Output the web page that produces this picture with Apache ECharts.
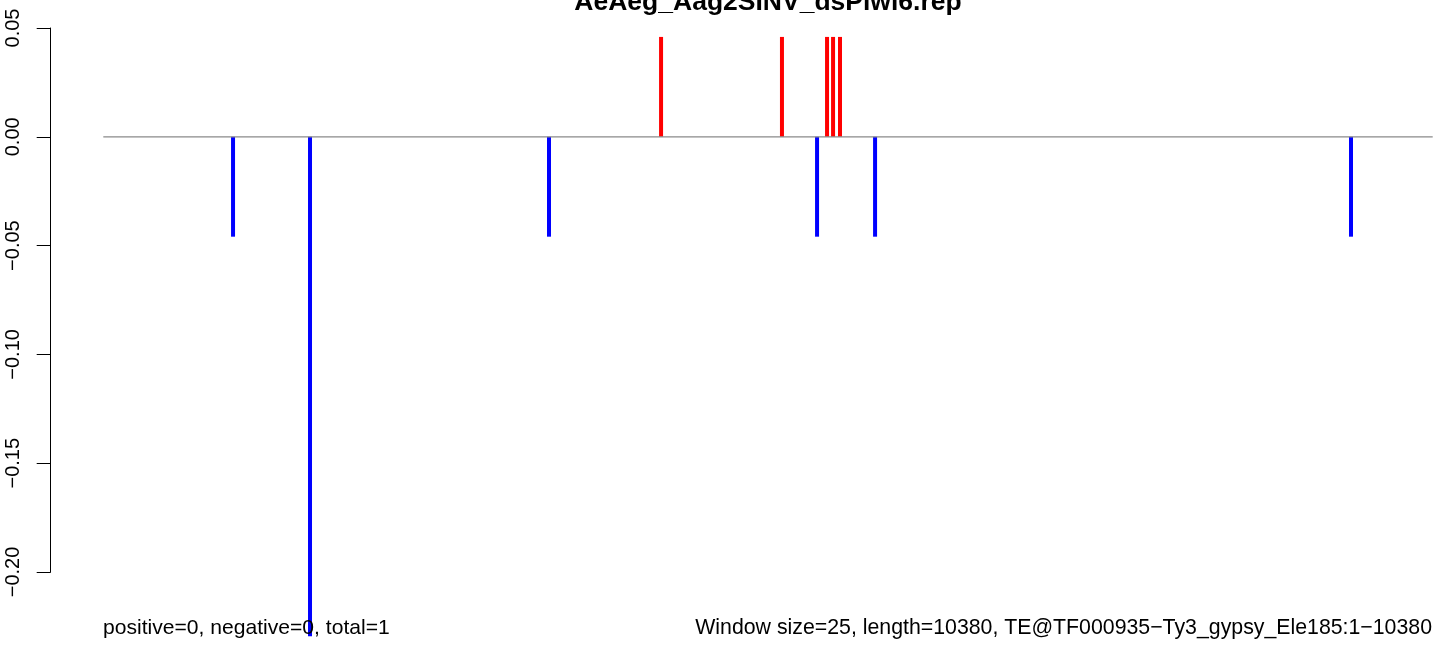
<!DOCTYPE html>
<html>
<head>
<meta charset="utf-8">
<script src="https://cdn.jsdelivr.net/npm/echarts@6/dist/echarts.min.js"></script>
<style>
html,body{margin:0;padding:0;background:#fff;}
#chart{width:1444px;height:646px;}
</style>
</head>
<body>
<div id="chart"></div>
<script>
// ---- data ----
const titleText = 'AeAeg_Aag2SINV_dsPiwi6.rep';
const leftNote = 'positive=0, negative=0, total=1';
const rightNote = 'Window size=25, length=10380, TE@TF000935\u2212Ty3_gypsy_Ele185:1\u221210380';
const seqLength = 10380;
const posPositions = [4355, 5299, 5651, 5698, 5752];
const posValues = [0.0459, 0.0459, 0.0459, 0.0459, 0.0459];
const negPositions = [1013, 1614, 3480, 5573, 6026, 9742];
const negValues = [-0.0459, -0.2295, -0.0459, -0.0459, -0.0459, -0.0459];
const yTickMin = -0.20, yTickMax = 0.05, yTickStep = 0.05;

const FONT = '"Liberation Sans", Arial, Helvetica, sans-serif';
const pos = posPositions.map((x, i) => [x, posValues[i]]);
const neg = negPositions.map((x, i) => [x, negValues[i]]);

const chart = echarts.init(document.getElementById('chart'), null, {renderer: 'canvas'});
chart.setOption({
  animation: false,
  backgroundColor: '#ffffff',
  grid: [
    {left: 103.3, width: 1329.4, top: 28, bottom: 8.7, containLabel: false},
    {left: 50.7, width: 1, top: 28, height: 544, containLabel: false}
  ],
  xAxis: [
    {type: 'value', gridIndex: 0, min: 0, max: seqLength, show: false},
    {type: 'value', gridIndex: 1, min: 0, max: 1, show: false}
  ],
  yAxis: [
    {type: 'value', gridIndex: 0, min: -0.23, max: 0.05, show: false},
    {type: 'value', gridIndex: 1, min: yTickMin, max: yTickMax, interval: yTickStep,
      axisLine: {show: true, lineStyle: {color: '#000', width: 1}},
      axisTick: {show: true, length: 14, lineStyle: {color: '#000', width: 1}},
      splitLine: {show: false},
      axisLabel: {
        rotate: 90, margin: 27, color: '#000', fontSize: 20, fontFamily: FONT,
        formatter: v => v.toFixed(2).replace('-', '\u2212')
      }
    }
  ],
  series: [
    {type: 'bar', xAxisIndex: 0, yAxisIndex: 0, data: pos, barWidth: 4, barGap: '-100%',
      itemStyle: {color: '#ff0000'}, z: 2},
    {type: 'bar', xAxisIndex: 0, yAxisIndex: 0, data: neg, barWidth: 4, barGap: '-100%',
      itemStyle: {color: '#0000ff'}, z: 2},
    {type: 'line', xAxisIndex: 0, yAxisIndex: 0, data: [[0, 0], [seqLength, 0]],
      symbol: 'none', lineStyle: {color: '#8a8a8a', width: 1.3}, z: 3}
  ],
  graphic: [
    {type: 'text', z: 10,
      style: {text: titleText, x: 768, y: 3, align: 'center', verticalAlign: 'middle',
        font: 'bold 26.5px ' + FONT, fill: '#000'}},
    {type: 'text', z: 10,
      style: {text: leftNote, x: 103, y: 628, align: 'left', verticalAlign: 'middle',
        font: '21.1px ' + FONT, fill: '#000'}},
    {type: 'text', z: 10,
      style: {text: rightNote, x: 1432, y: 628, align: 'right', verticalAlign: 'middle',
        font: '21.3px ' + FONT, fill: '#000'}}
  ]
});
</script>
</body>
</html>
